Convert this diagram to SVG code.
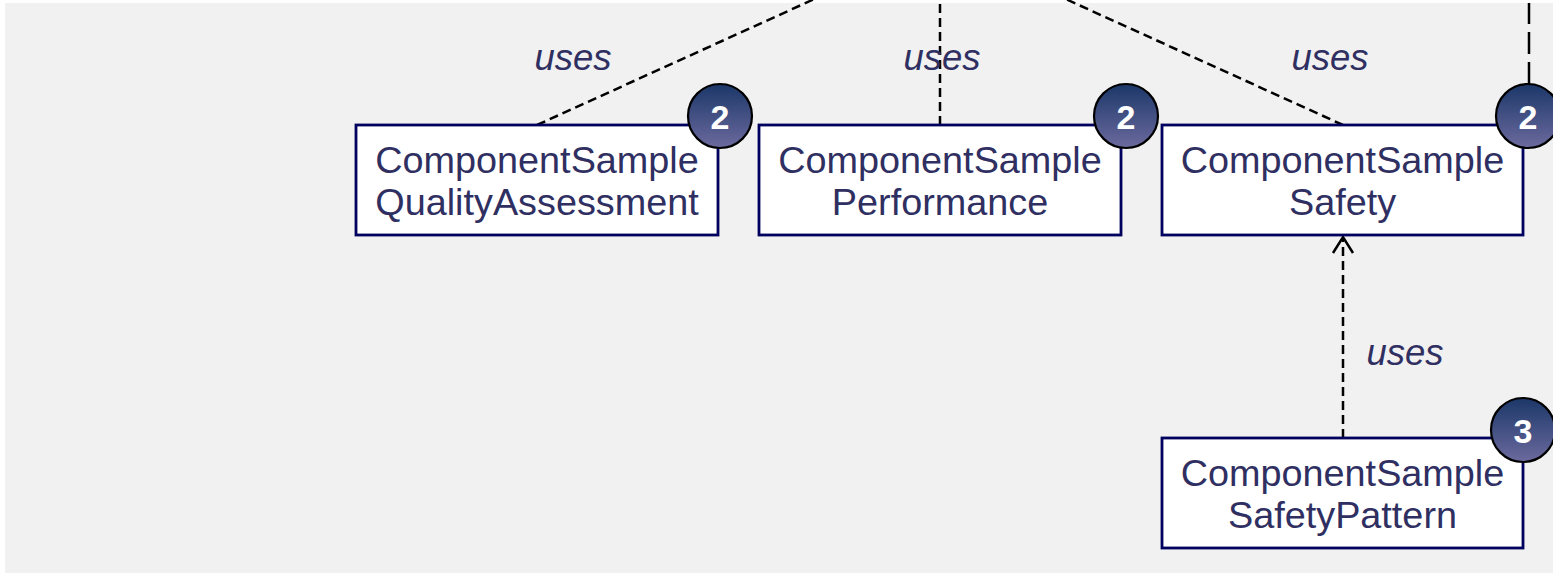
<svg xmlns="http://www.w3.org/2000/svg" width="1553" height="574" viewBox="0 0 1553 574">
<defs>
<linearGradient id="badgeGrad" x1="0" y1="0" x2="0" y2="1">
<stop offset="0" stop-color="#1b3768"/>
<stop offset="1" stop-color="#6c6a9e"/>
</linearGradient>
<style>
.box{fill:#ffffff;stroke:#00005e;stroke-width:2.8}
.lbl{font-family:"Liberation Sans",Arial,sans-serif;font-size:37.8px;fill:#2f2f62;text-anchor:middle}
.uses{font-family:"Liberation Sans",Arial,sans-serif;font-size:36.5px;font-style:italic;fill:#2f2f62;text-anchor:middle}
.badge{fill:url(#badgeGrad);stroke:#000000;stroke-width:2.2}
.num{font-family:"Liberation Sans",Arial,sans-serif;font-size:34px;font-weight:bold;fill:#ffffff;text-anchor:middle}
.dep{fill:none;stroke:#000000;stroke-width:2.5;stroke-dasharray:9 5}
.dep2{fill:none;stroke:#000000;stroke-width:2.5;stroke-dasharray:22 8}
.arrowhead{fill:none;stroke:#000000;stroke-width:2.5}
</style>
</defs>
<rect x="0" y="0" width="1553" height="574" fill="#ffffff"/>
<rect x="5" y="3" width="1548" height="570" fill="#f1f1f1"/>
<g id="connectors">
<line class="dep" x1="537" y1="125" x2="940" y2="-58"/>
<line class="dep" x1="940" y1="125" x2="940" y2="-58"/>
<line class="dep" x1="1343" y1="125" x2="940" y2="-58"/>
<line class="dep2" x1="1529" y1="84" x2="1529" y2="3"/>
<line class="dep" x1="1343" y1="438" x2="1343" y2="238"/>
<polyline class="arrowhead" points="1333,253 1343,237 1353,253"/>
<text class="uses" x="573" y="70">uses</text>
<text class="uses" x="942" y="70">uses</text>
<text class="uses" x="1330" y="70">uses</text>
<text class="uses" x="1405" y="365">uses</text>
</g>
<g id="node-qa">
<rect class="box" x="356" y="125" width="362" height="110"/>
<text class="lbl" x="537" y="173">ComponentSample</text>
<text class="lbl" x="537" y="215">QualityAssessment</text>
<circle class="badge" cx="720" cy="116" r="32"/>
<text class="num" x="720" y="129">2</text>
</g>
<g id="node-perf">
<rect class="box" x="759" y="125" width="362" height="110"/>
<text class="lbl" x="940" y="173">ComponentSample</text>
<text class="lbl" x="940" y="215">Performance</text>
<circle class="badge" cx="1126" cy="116" r="32"/>
<text class="num" x="1126" y="129">2</text>
</g>
<g id="node-safety">
<rect class="box" x="1162" y="125" width="361" height="110"/>
<text class="lbl" x="1342.5" y="173">ComponentSample</text>
<text class="lbl" x="1342.5" y="215">Safety</text>
<circle class="badge" cx="1528" cy="116" r="32"/>
<text class="num" x="1528" y="129">2</text>
</g>
<g id="node-safetypattern">
<rect class="box" x="1162" y="438" width="361" height="110"/>
<text class="lbl" x="1342.5" y="486">ComponentSample</text>
<text class="lbl" x="1342.5" y="528">SafetyPattern</text>
<circle class="badge" cx="1523" cy="430" r="32"/>
<text class="num" x="1523" y="443">3</text>
</g>
</svg>
